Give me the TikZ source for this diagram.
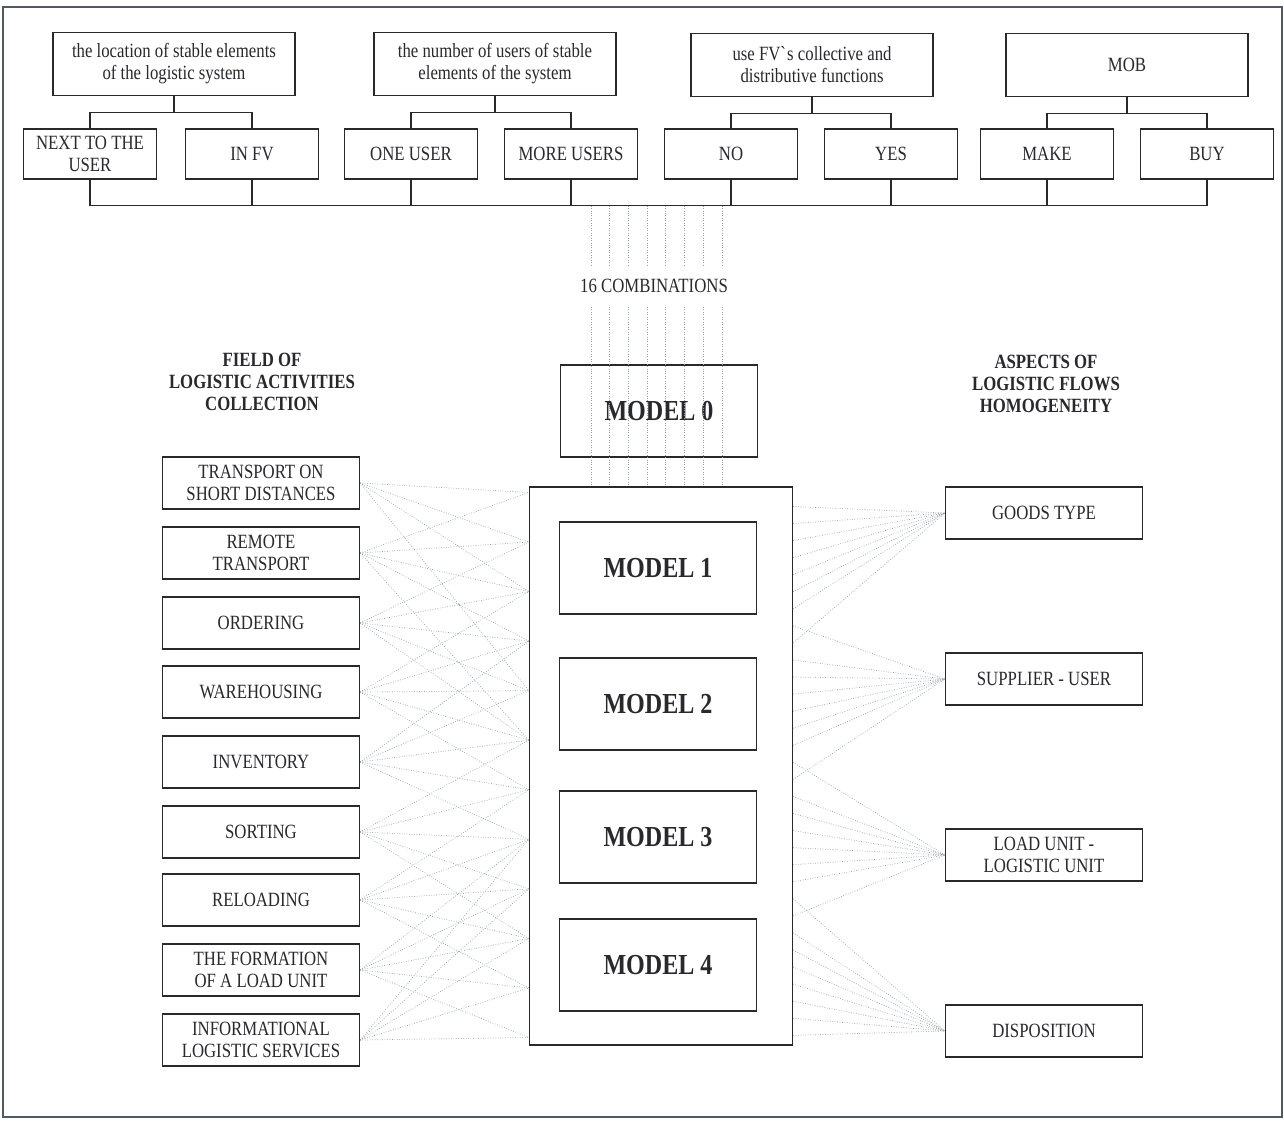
\documentclass[tikz,border=0pt]{standalone}
\usepackage{fontspec}
\newfontfamily\scanfont[FakeStretch=0.83]{Liberation Serif}
\usepackage{tikz}
\usetikzlibrary{calc}
\definecolor{lgbox}{RGB}{40,40,45}
\definecolor{lgdot}{RGB}{150,158,168}
\definecolor{lgframe}{RGB}{80,90,100}

\begin{document}
\begin{tikzpicture}[x=0.02cm,y=-0.02cm,
  every node/.style={font=\scanfont\fontsize{11.5}{12.5}\selectfont, text=lgbox},
  box/.style={draw=lgbox, line width=0.7pt, align=center, inner sep=0pt},
  head/.style={box, minimum width=4.84cm, minimum height=1.26cm},
  pick/.style={box, minimum width=2.66cm, minimum height=1cm},
  act/.style={box, minimum width=3.94cm, minimum height=1.04cm},
  model/.style={box, minimum width=3.94cm, minimum height=1.84cm,
    font=\scanfont\bfseries\fontsize{16.5}{18}\selectfont},
  title/.style={align=center, font=\scanfont\bfseries\fontsize{11.5}{12.5}\selectfont},
  tie/.style={draw=lgbox, line width=0.7pt},
  combi/.style={draw=lgdot, densely dotted, line width=0.4pt},
  link/.style={draw=lgdot, densely dotted, line width=0.4pt}]
  \useasboundingbox (0,0) rectangle (1284,1120);
  \draw[lgframe, line width=0.6pt] (3,7) rectangle (1282,1117);

  \node[head] (h1) at (174,64) {the location of stable elements\\of the logistic system};
  \node[head] (h2) at (495,64) {the number of users of stable\\elements of the system};
  \node[head] (h3) at (812,65) {use FV\textasciigrave s collective and\\distributive functions};
  \node[head] (h4) at (1127,65) {MOB};
  \foreach \n/\x/\t in {1/90/{NEXT TO THE\\USER}, 2/252/IN FV, 3/411/ONE USER,
      4/571/MORE USERS, 5/731/NO, 6/891/YES, 7/1047/MAKE, 8/1207/BUY}
    \node[pick] (c\n) at (\x,154) {\t};
  \foreach \k/\a/\b in {1/1/2, 2/3/4, 3/5/6, 4/7/8} {
    \draw[tie] (h\k.south) -- ++(0,16) coordinate (j\k);
    \draw[tie] (c\a.north) |- (j\k) -| (c\b.north);
  }
  \draw[tie] (c1.south) -- ++(0,26) coordinate (bus) -| (c8.south);
  \foreach \n in {2,...,7}
    \draw[tie] (c\n.south) -- (c\n.south |- bus);

  \node (combtxt) at (654,286) {16 COMBINATIONS};
  \node[title] (fieldhd) at (262,382) {FIELD OF\\LOGISTIC ACTIVITIES\\COLLECTION};
  \node[title] (aspecthd) at (1046,384) {ASPECTS OF\\LOGISTIC FLOWS\\HOMOGENEITY};

  \node[box, minimum width=5.26cm, minimum height=11.16cm] (cont) at (661,766) {};
  \node[model] (m0) at (659,411) {MODEL 0};
  \foreach \n/\y in {1/568, 2/704, 3/837, 4/965}
    \node[model] (m\n) at (658,\y) {MODEL \n};

  \foreach \n/\y/\t in {1/483/{TRANSPORT ON\\SHORT DISTANCES}, 2/553/{REMOTE\\TRANSPORT},
      3/623/ORDERING, 4/692/WAREHOUSING, 5/762/INVENTORY, 6/832/SORTING,
      7/900/RELOADING, 8/970/{THE FORMATION\\OF A LOAD UNIT},
      9/1040/{INFORMATIONAL\\LOGISTIC SERVICES}}
    \node[act] (a\n) at (261,\y) {\t};
  \foreach \n/\y/\t in {1/513/GOODS TYPE, 2/679/SUPPLIER - USER,
      3/855/{LOAD UNIT -\\LOGISTIC UNIT}, 4/1031/DISPOSITION}
    \node[act] (s\n) at (1044,\y) {\t};

  \foreach \k [evaluate=\k as \x using 591+18.7*\k] in {0,...,7}
    \draw[combi] (\x,0 |- bus) -- (\x,265) (\x,307) -- (\x,0 |- cont.north);

  \foreach \j in {0,...,11}
    \coordinate (lp\j) at ($(cont.north west)+(0,{6+49.55*\j})$);
  \foreach \j in {0,...,31}
    \coordinate (rp\j) at ($(cont.north east)+(0,{20+17.06*\j})$);

  \foreach \n/\list in {1/{0,1,2,4}, 2/{0,1,2,3,5}, 3/{1,2,3,4,5}, 4/{2,3,4,5,6},
      5/{3,4,5,6,7}, 6/{5,6,7,8,9}, 7/{6,7,8,9,10}, 8/{7,8,9,10,11}, 9/{7,8,9,10,11}}
    \foreach \j in \list
      \draw[link] (a\n.east) -- (lp\j);
  \foreach \n/\list in {1/{0,1,2,3,4,5,6,8}, 2/{7,9,10,11,12,13,14,16},
      3/{15,17,18,19,20,21,22,24}, 4/{23,25,26,27,28,29,30,31}}
    \foreach \j in \list
      \draw[link] (rp\j) -- (s\n.west);
\end{tikzpicture}
\end{document}
